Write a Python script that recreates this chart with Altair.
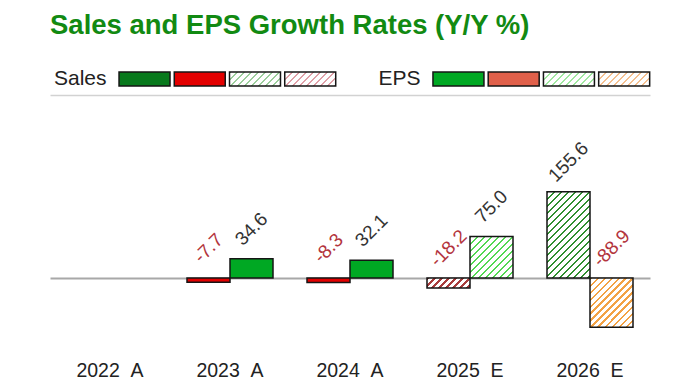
import altair as alt
import pandas as pd

# ---------------- data ----------------
categories = ["2022 A", "2023 A", "2024 A", "2025 E", "2026 E"]
sales_growth = [None, -7.7, -8.3, -18.2, 155.6]
eps_growth = [None, 34.6, 32.1, 75.0, -88.9]
series_names = ["Sales", "EPS"]
legend_kinds = ["Actual up", "Actual down", "Estimate up", "Estimate down"]

# ---------------- style ----------------
PLOT_W = 600
PLOT_H = 244
Y_MIN, Y_MAX = -110, 330
PX_PER_UNIT = PLOT_H / (Y_MAX - Y_MIN)
PAD_IN = 0.2833
STEP = PLOT_W / len(categories)
BAR_W = STEP * (1 - PAD_IN) / 2

FILL = {
    ("Sales", "A", "up"): "#08791c",
    ("Sales", "A", "down"): "#e30000",
    ("Sales", "E", "up"): "#2f8f2f",
    ("Sales", "E", "down"): "#a83c3c",
    ("EPS", "A", "up"): "#00a823",
    ("EPS", "A", "down"): "#e0604a",
    ("EPS", "E", "up"): "#52d852",
    ("EPS", "E", "down"): "#f3a244",
}
LEGEND_HATCH = {
    ("Sales", "E", "up"): "#9cce9c",
    ("Sales", "E", "down"): "#e0a0a8",
    ("EPS", "E", "up"): "#a0e8a0",
    ("EPS", "E", "down"): "#f5c090",
}
STROKE = "#151515"
FONT = "Liberation Sans"


def hatch(color, w, h, spacing=7.0, line=2.2, bg="#ffffff"):
    """Diagonal '/' hatching as a hard-stop linear gradient (bbox units)."""
    k = (w + h) / (w * w + h * h)
    n = (w + h) / spacing
    f = line / spacing
    stops = []
    i = 0
    while i < n:
        a = round(min(i / n, 1.0), 5)
        b = round(min((i + f) / n, 1.0), 5)
        c = round(min((i + 1) / n, 1.0), 5)
        stops += [
            {"offset": a, "color": color},
            {"offset": b, "color": color},
            {"offset": b, "color": bg},
            {"offset": c, "color": bg},
        ]
        i += 1
    return {"gradient": "linear", "stops": stops, "x1": 0, "y1": 0,
            "x2": round(w * k, 5), "y2": round(h * k, 5)}


rows = []
for cat, s, e in zip(categories, sales_growth, eps_growth):
    for name, v in (("Sales", s), ("EPS", e)):
        if v is None:
            continue
        rows.append({"category": cat, "series": name, "value": v,
                     "type": cat.split(" ")[-1], "dir": "up" if v >= 0 else "down"})
df = pd.DataFrame(rows)

x_enc = alt.X(
    "category:N",
    scale=alt.Scale(domain=categories, paddingInner=PAD_IN, paddingOuter=PAD_IN / 2),
    axis=alt.Axis(title=None, domain=False, ticks=False, labelAngle=0, labelFontSize=19.5,
                  labelFont=FONT, labelColor="#222222", labelPadding=22,
                  labelExpr="replace(datum.label, ' ', '\u00a0\u00a0')"),
)
xo_enc = alt.XOffset("series:N", scale=alt.Scale(domain=series_names, paddingInner=0, paddingOuter=0))
y_scale = alt.Scale(domain=[Y_MIN, Y_MAX], nice=False, zero=True)
y_axis = alt.Axis(
    title=None, values=[0, Y_MAX], grid=True, labels=False, ticks=False, domain=False,
    gridColor={"condition": {"test": "datum.value === 0", "value": "#a8a8a8"}, "value": "#d2d2d2"},
    gridWidth={"condition": {"test": "datum.value === 0", "value": 2}, "value": 1.5},
)

base = alt.Chart(df)

bar_layers = []
for r in rows:
    key = (r["series"], r["type"], r["dir"])
    if r["type"] == "A":
        fill = FILL[key]
    else:
        fill = hatch(FILL[key], BAR_W, abs(r["value"]) * PX_PER_UNIT)
    layer = base.transform_filter(
        (alt.datum.category == r["category"]) & (alt.datum.series == r["series"])
    ).mark_bar(stroke=STROKE, strokeWidth=1.5, fill=fill).encode(
        x=x_enc, xOffset=xo_enc,
        y=alt.Y("value:Q", scale=y_scale, axis=y_axis),
    )
    bar_layers.append(layer)

labels = base.transform_calculate(
    ly="max(datum.value, 0)",
    lbl="replace(format(datum.value, '.1f'), '\u2212', '-')",
).mark_text(angle=315, align="center", baseline="middle", dx=21, dy=-21,
            fontSize=19, font=FONT).encode(
    x=x_enc, xOffset=xo_enc,
    y=alt.Y("ly:Q", scale=y_scale, axis=y_axis),
    text="lbl:N",
    color=alt.condition("datum.value < 0", alt.value("#b3353d"), alt.value("#333333")),
)

main = alt.layer(*bar_layers, labels).properties(width=PLOT_W, height=PLOT_H)

# ---------------- legend row ----------------
SW_STEP = 55.25
SW_W = 51
SW_H = 14
PI_L = (SW_STEP - SW_W) / SW_STEP


def legend_chart(name, width, pad_outer, align):
    ldf = pd.DataFrame({"group": [name] * 4, "kind": legend_kinds})
    xs = alt.Scale(domain=legend_kinds, paddingInner=PI_L, paddingOuter=pad_outer, align=align)
    ys = alt.Scale(paddingInner=0, paddingOuter=0)
    lbase = alt.Chart(ldf).encode(
        x=alt.X("kind:N", scale=xs, axis=None),
        y=alt.Y("group:N", scale=ys, axis=None),
    )
    layers = []
    for kind, (t, d) in zip(legend_kinds, [("A", "up"), ("A", "down"), ("E", "up"), ("E", "down")]):
        key = (name, t, d)
        fill = FILL[key] if t == "A" else hatch(LEGEND_HATCH[key], SW_W, SW_H, spacing=7.0, line=1.6)
        layers.append(lbase.transform_filter(alt.datum.kind == kind)
                      .mark_rect(stroke=STROKE, strokeWidth=1.5, fill=fill))
    text = lbase.transform_filter(alt.datum.kind == legend_kinds[0]).mark_text(
        align="right", baseline="middle", dx=-38, fontSize=21, font=FONT, color="#222222"
    ).encode(text="group:N")
    layers.append(text)
    return alt.layer(*layers).properties(width=width, height=SW_H)


legend_row = alt.hconcat(
    legend_chart("Sales", 288, 0.6456, 0.968),
    legend_chart("EPS", 275, 0.5277, 0.96),
    spacing=39,
)

chart = alt.concat(legend_row, main, columns=1, spacing=6).properties(
    title=alt.TitleParams("Sales and EPS Growth Rates (Y/Y %)", anchor="start", fontSize=27.5,
                          font=FONT, fontWeight="bold", color="#128a12", offset=28.5),
    padding={"left": 42, "top": 4, "right": 5, "bottom": 0},
).configure_view(stroke=None)

chart.save("out.html", embed_options={"renderer": "svg", "actions": False})
